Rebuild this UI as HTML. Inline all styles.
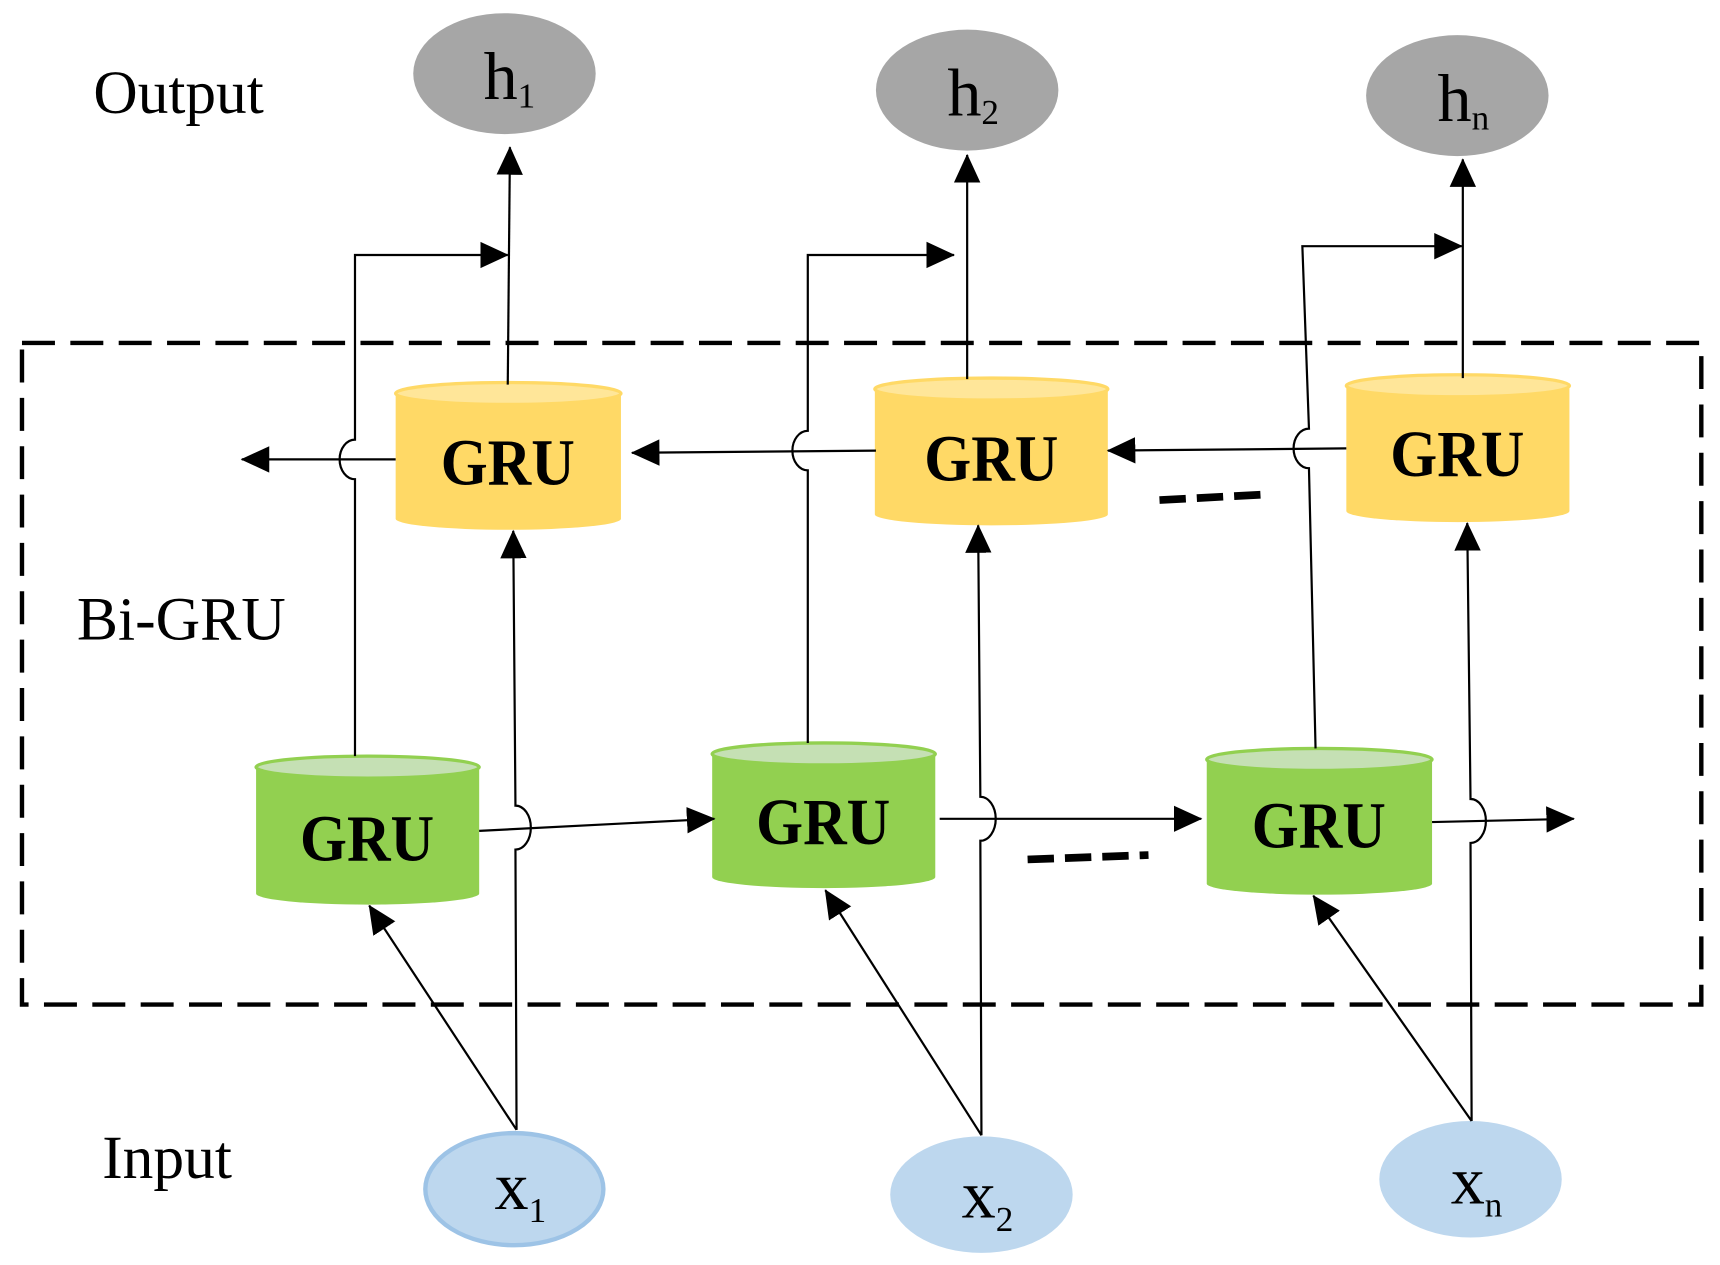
<!DOCTYPE html>
<html><head><style>html,body{margin:0;padding:0;background:#fff}svg{display:block}</style></head><body>
<svg width="1720" height="1265" viewBox="0 0 1565 1151" preserveAspectRatio="none" xmlns="http://www.w3.org/2000/svg">
<defs>
<marker id="b" markerWidth="26" markerHeight="26" refX="25" refY="13" orient="auto" markerUnits="userSpaceOnUse" viewBox="0 0 26 26"><path d="M0,1 L26,13 L0,25z" fill="#000"/></marker>
</defs>
<rect x="20" y="312" width="1528" height="602" fill="none" stroke="#000" stroke-width="4" stroke-dasharray="30,14"/>
<g font-family="Liberation Serif, serif" font-size="56" fill="#000">
<text x="85" y="103" textLength="155" lengthAdjust="spacingAndGlyphs">Output</text>
<text x="70" y="582" textLength="190" lengthAdjust="spacingAndGlyphs">Bi-GRU</text>
<text x="93" y="1072" textLength="118" lengthAdjust="spacingAndGlyphs">Input</text>
</g>
<g fill="#a6a6a6">
<ellipse cx="459" cy="67" rx="83" ry="55"/><ellipse cx="880" cy="82" rx="83" ry="55"/><ellipse cx="1326" cy="87" rx="83" ry="55"/>
</g>
<g font-family="Liberation Serif, serif" font-size="62" fill="#000">
<text x="440" y="90">h<tspan font-size="32" dy="8">1</tspan></text>
<text x="862" y="105">h<tspan font-size="32" dy="8">2</tspan></text>
<text x="1308" y="110">h<tspan font-size="32" dy="8">n</tspan></text>
</g>
<ellipse cx="468" cy="1082" rx="81" ry="51" fill="#bdd7ee" stroke="#9dc3e6" stroke-width="4"/>
<ellipse cx="893" cy="1087" rx="83" ry="53" fill="#bdd7ee"/>
<ellipse cx="1338" cy="1073" rx="83" ry="53" fill="#bdd7ee"/>
<g font-family="Liberation Serif, serif" font-size="62" fill="#000">
<text x="450" y="1100">x<tspan font-size="32" dy="12">1</tspan></text>
<text x="875" y="1108">x<tspan font-size="32" dy="12">2</tspan></text>
<text x="1320" y="1095">x<tspan font-size="32" dy="12">n</tspan></text>
</g>
<g>
<path d="M360,358 v114 a102,10 0 0 0 205,0 v-114z" fill="#ffd966"/><ellipse cx="462.5" cy="358" rx="102.5" ry="10" fill="#ffe699" stroke="#ffd966" stroke-width="3"/>
<path d="M796,354 v114 a106,10 0 0 0 212,0 v-114z" fill="#ffd966"/><ellipse cx="902" cy="354" rx="106" ry="10" fill="#ffe699" stroke="#ffd966" stroke-width="3"/>
<path d="M1225,351 v114 a101,10 0 0 0 203,0 v-114z" fill="#ffd966"/><ellipse cx="1326.5" cy="351" rx="101.5" ry="10" fill="#ffe699" stroke="#ffd966" stroke-width="3"/>
<path d="M233,698 v115 a101,10 0 0 0 203,0 v-115z" fill="#92d050"/><ellipse cx="334.5" cy="698" rx="101.5" ry="10" fill="#c5e0b4" stroke="#92d050" stroke-width="3"/>
<path d="M648,686 v112 a101,10 0 0 0 203,0 v-112z" fill="#92d050"/><ellipse cx="749.5" cy="686" rx="101.5" ry="10" fill="#c5e0b4" stroke="#92d050" stroke-width="3"/>
<path d="M1098,691 v113 a102,10 0 0 0 205,0 v-113z" fill="#92d050"/><ellipse cx="1200.5" cy="691" rx="102.5" ry="10" fill="#c5e0b4" stroke="#92d050" stroke-width="3"/>
</g>
<g font-family="Liberation Serif, serif" font-size="60" font-weight="bold" fill="#000" text-anchor="middle">
<text x="462" y="441" textLength="122" lengthAdjust="spacingAndGlyphs">GRU</text><text x="902" y="437" textLength="122" lengthAdjust="spacingAndGlyphs">GRU</text><text x="1326" y="433" textLength="122" lengthAdjust="spacingAndGlyphs">GRU</text>
<text x="334" y="783" textLength="122" lengthAdjust="spacingAndGlyphs">GRU</text><text x="749" y="768" textLength="122" lengthAdjust="spacingAndGlyphs">GRU</text><text x="1200" y="771" textLength="122" lengthAdjust="spacingAndGlyphs">GRU</text>
</g>
<g stroke="#000" stroke-width="2" fill="none">
<path d="M323,688 V436 a14,18 0 0 1 0,-36 V232 H462" marker-end="url(#b)"/>
<path d="M735,676 V428 a14,18 0 0 1 0,-36 V232 H868" marker-end="url(#b)"/>
<path d="M1197,681 L1191,426 a14,18 0 0 1 0,-36 L1185,224 H1330" marker-end="url(#b)"/>
<path d="M462,350 L464,134" marker-end="url(#b)"/>
<path d="M880,345 V141" marker-end="url(#b)"/>
<path d="M1331,344 V145" marker-end="url(#b)"/>
<path d="M470,1028 L469,773 a14,20 0 0 0 0,-40 L467,483" marker-end="url(#b)"/>
<path d="M470,1028 L336,824" marker-end="url(#b)"/>
<path d="M893,1033 L892,765 a14,20 0 0 0 0,-40 L890,478" marker-end="url(#b)"/>
<path d="M893,1033 L751,810" marker-end="url(#b)"/>
<path d="M1339,1020 L1338,767 a14,20 0 0 0 0,-40 L1335,476" marker-end="url(#b)"/>
<path d="M1339,1020 L1195,815" marker-end="url(#b)"/>
<path d="M360,418 H220" marker-end="url(#b)"/>
<path d="M797,410 L575,412" marker-end="url(#b)"/>
<path d="M1225,408 L1008,410" marker-end="url(#b)"/>
<path d="M436,756 L650,745" marker-end="url(#b)"/>
<path d="M855,745 L1093,745" marker-end="url(#b)"/>
<path d="M1303,748 L1432,745" marker-end="url(#b)"/>
</g>
<g stroke="#000" stroke-width="7">
<line x1="1055" y1="455" x2="1150" y2="450" stroke-dasharray="24,10"/>
<line x1="935" y1="782" x2="1045" y2="778" stroke-dasharray="24,10"/>
</g>
</svg>
</body></html>
